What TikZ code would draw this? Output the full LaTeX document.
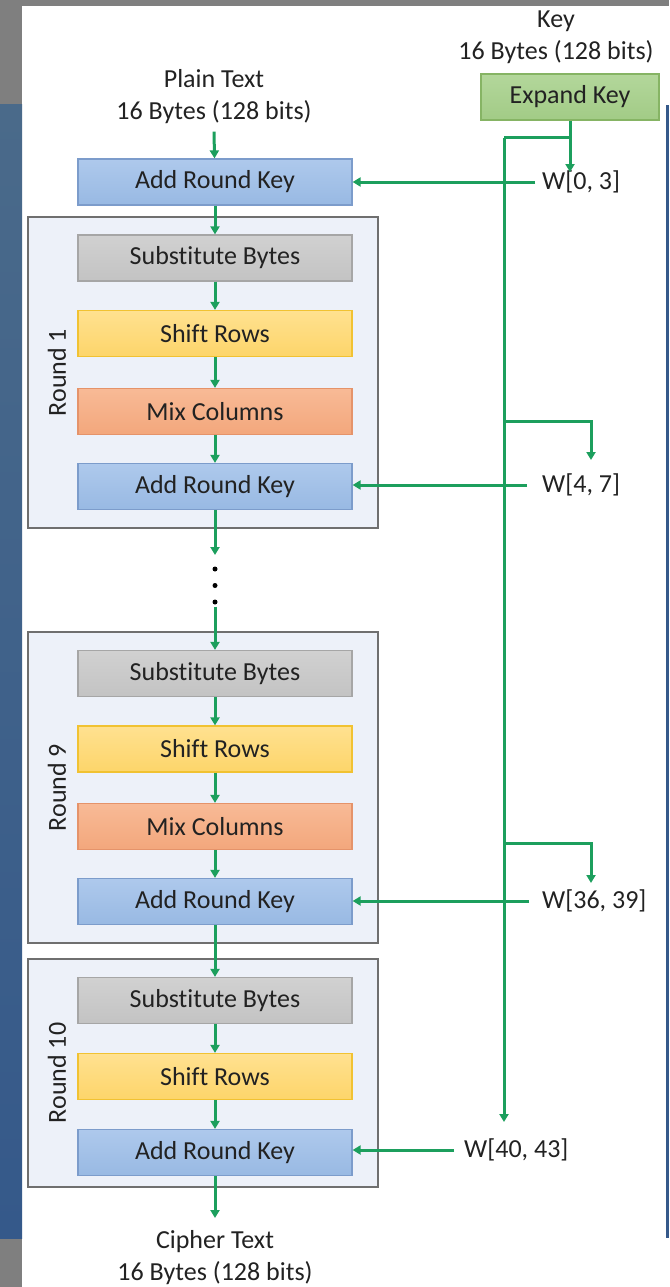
\documentclass[tikz,border=0pt]{standalone}
\usepackage{fontspec}
\setmainfont{Carlito}[Ligatures=NoCommon]
\usetikzlibrary{arrows.meta,calc}

\definecolor{txt}{HTML}{222222}
\definecolor{bggray}{HTML}{7F7F7F}
\definecolor{stripA}{HTML}{4A6A8A}
\definecolor{stripB}{HTML}{35598A}
\definecolor{rndfill}{HTML}{EDF1F9}
\definecolor{rndline}{HTML}{6F6F6F}
\definecolor{arktop}{HTML}{AEC9EC}
\definecolor{arkbot}{HTML}{98B9E3}
\definecolor{arkline}{HTML}{7C9CCB}
\definecolor{sbtop}{HTML}{D1D1D1}
\definecolor{sbbot}{HTML}{C3C3C3}
\definecolor{sbline}{HTML}{A6A6A6}
\definecolor{srtop}{HTML}{FFE190}
\definecolor{srbot}{HTML}{FDD56A}
\definecolor{srline}{HTML}{F1C232}
\definecolor{mctop}{HTML}{F8BA96}
\definecolor{mcbot}{HTML}{F3A77C}
\definecolor{mcline}{HTML}{E5936A}
\definecolor{ektop}{HTML}{B3D79B}
\definecolor{ekbot}{HTML}{A2CB86}
\definecolor{ekline}{HTML}{86B464}
\definecolor{flowgreen}{HTML}{1C9F5D}

\begin{document}
\begin{tikzpicture}[x=1pt,y=-1pt,
  every node/.style={text=txt, font=\fontsize{26}{32}\selectfont},
  stage/.style={draw, line width=1.2pt, minimum width=274pt, minimum height=46pt, inner sep=0pt},
  ark/.style={stage, draw=arkline, top color=arktop, bottom color=arkbot},
  subb/.style={stage, draw=sbline, top color=sbtop, bottom color=sbbot},
  shrow/.style={stage, draw=srline, top color=srtop, bottom color=srbot},
  mixc/.style={stage, draw=mcline, top color=mctop, bottom color=mcbot},
  expk/.style={stage, minimum width=178pt, draw=ekline, top color=ektop, bottom color=ekbot},
  roundbox/.style={draw=rndline, fill=rndfill, line width=1.4pt, inner sep=0pt, minimum width=350pt},
  roundlabel/.style={rotate=90},
  caption/.style={align=center, inner sep=0pt, anchor=north},
  wlabel/.style={anchor=west, inner sep=0pt},
  dot/.style={circle, fill=black, inner sep=0pt, minimum size=5pt},
  wire/.style={draw=flowgreen, line width=3pt},
  flow/.style={wire, -{Triangle[length=8pt,width=9pt]}},
]
\useasboundingbox (0,0) rectangle (669,1287);

% window background
\fill[bggray] (0,0) rectangle (669,1287);
\fill[white] (22,6) rectangle (669,1287);
\shade[top color=stripA, bottom color=stripB] (0,105) rectangle (22,1238);
\fill[stripB] (666,105) rectangle (669,1238);

% round frames
\node[roundbox, minimum height=311pt] (r1) at (203,372.5) {};
\node[roundbox, minimum height=311pt] (r9) at (203,787.5) {};
\node[roundbox, minimum height=228pt] (r10) at (203,1073) {};
\node[roundlabel] (l1) at (57,372.5) {Round 1};
\node[roundlabel] (l9) at (57,787.5) {Round 9};
\node[roundlabel] (l10) at (57,1073) {Round 10};

% inputs and outputs
\node[caption] (pt) at (214,69) {Plain Text\\16 Bytes (128 bits)};
\node[caption] (key) at (556,11) {Key\\16 Bytes (128 bits)};
\node[caption] (ct) at (215,1230) {Cipher Text\\16 Bytes (128 bits)};
\node[expk] (ek) at (570,97) {Expand Key};

% initial key addition
\node[ark] (ark0) at (215,182) {Add Round Key};

% round 1
\node[subb]  (sb1)  at (215,258)   {Substitute Bytes};
\node[shrow] (sr1)  at (215,333.5) {Shift Rows};
\node[mixc]  (mc1)  at (215,411.5) {Mix Columns};
\node[ark]   (ark1) at (215,486.5) {Add Round Key};

% round 9
\node[subb]  (sb9)  at (215,673.5) {Substitute Bytes};
\node[shrow] (sr9)  at (215,749)   {Shift Rows};
\node[mixc]  (mc9)  at (215,826.5) {Mix Columns};
\node[ark]   (ark9) at (215,901.5) {Add Round Key};

% round 10
\node[subb]  (sb10)  at (215,1000.5) {Substitute Bytes};
\node[shrow] (sr10)  at (215,1076.5) {Shift Rows};
\node[ark]   (ark10) at (215,1152.5) {Add Round Key};

% round key words
\node[wlabel] (w03)   at (542,182)  {W[0, 3]};
\node[wlabel] (w47)   at (542,485)  {W[4, 7]};
\node[wlabel] (w3639) at (542,901)  {W[36, 39]};
\node[wlabel] (w4043) at (464,1150) {W[40, 43]};

% ellipsis between round 1 and round 9
\coordinate (gtop) at (215,555);
\node[dot] (d1) at (215,569) {};
\node[dot] (d2) at (215,585.5) {};
\node[dot] (d3) at (215,602) {};

% data path
\draw[flow] ([yshift=-8pt]pt.south) -- (ark0);
\draw[flow] (ark0) -- (sb1);
\draw[flow] (sb1) -- (sr1);
\draw[flow] (sr1) -- (mc1);
\draw[flow] (mc1) -- (ark1);
\draw[flow] (ark1) -- (gtop);
\draw[flow, shorten <=2pt] (d3.south) -- (sb9);
\draw[flow] (sb9) -- (sr9);
\draw[flow] (sr9) -- (mc9);
\draw[flow] (mc9) -- (ark9);
\draw[flow] (ark9) -- (sb10);
\draw[flow] (sb10) -- (sr10);
\draw[flow] (sr10) -- (ark10);
\draw[flow] (ark10) -- ([yshift=12pt]ct.north);

% key schedule distribution
\coordinate (ktip) at (570,172);
\coordinate (j0)   at (504,138);
\coordinate (jend) at (504,1122);
\coordinate (b1)   at (504,421);
\coordinate (t1)   at (591,460);
\coordinate (b9)   at (504,843);
\coordinate (t9)   at (591,883);
\draw[flow] (ek.south) -- (ktip);
\draw[wire] (ek.south |- j0) -- (j0);
\draw[flow] (j0) -- (jend);
\draw[flow] (b1) -| (t1);
\draw[flow] (b9) -| (t9);

% round keys into the adders
\draw[flow] ([xshift=-7pt]w03.west) -- (w03.west -| ark0.east);
\draw[flow] ([xshift=-15pt]w47.west) -- (w47.west -| ark1.east);
\draw[flow] ([xshift=-13pt]w3639.west) -- (w3639.west -| ark9.east);
\draw[flow] ([xshift=-10pt]w4043.west) -- (w4043.west -| ark10.east);
\end{tikzpicture}
\end{document}
